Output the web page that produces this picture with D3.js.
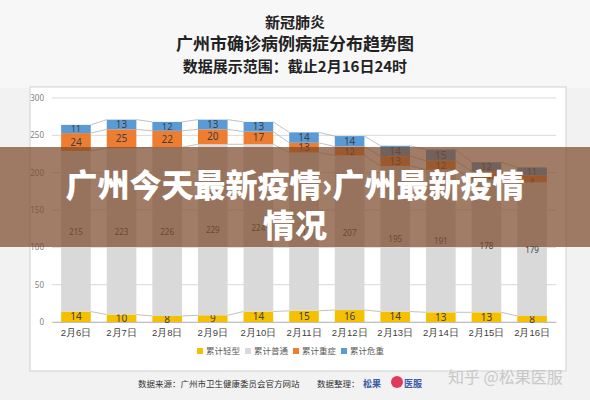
<!DOCTYPE html>
<html><head><meta charset="utf-8">
<script src="https://cdn.jsdelivr.net/npm/d3@7"></script>
<style>body{margin:0;background:#f2f2f2;font-family:"Noto Sans CJK SC",sans-serif}</style>
</head><body><svg id="c" width="590" height="400"></svg>
<script>
const dates = ["2月6日","2月7日","2月8日","2月9日","2月10日","2月11日","2月12日","2月13日","2月14日","2月15日","2月16日"];
const mild = [14,10,8,9,14,15,16,14,13,13,8];
const normal = [215,223,226,229,224,212,207,195,191,178,179];
const severe = [24,25,22,20,17,13,12,13,12,11,9];
const critical = [11,13,12,13,13,14,14,14,15,12,11];
const seriesNames = ["累计轻型","累计普通","累计重症","累计危重"];
const colors = ["#f5c000","#d9d9d9","#ed7d31","#5b9bd5"];
const yTicks = [0,50,100,150,200,250,300];

const svg = d3.select("#c");
svg.append("rect").attr("width",590).attr("height",88).attr("fill","#f7f7f7");
const tt = [["新冠肺炎",28,15],["广州市确诊病例病症分布趋势图",50,17],["数据展示范围：截止2月16日24时",72,15]];
tt.forEach(t=>svg.append("text").attr("x",295).attr("y",t[1]).attr("text-anchor","middle")
  .attr("font-size",t[2]).attr("font-weight","bold").attr("fill","#222").text(t[0]));
svg.append("rect").attr("x",30).attr("y",87).attr("width",536).attr("height",284)
  .attr("fill","#fff").attr("stroke","#d0d0d0");

const x = d3.scaleBand().domain(dates).range([52,556]).paddingInner(0.35).paddingOuter(0.2);
const y = d3.scaleLinear().domain([0,300]).range([322,98]);

const g = svg.append("g");
g.selectAll(".grid").data(yTicks).join("line").attr("x1",52).attr("x2",556)
  .attr("y1",d=>y(d)).attr("y2",d=>y(d)).attr("stroke","#d9d9d9");
const ya = g.append("g").attr("transform","translate(52,0)")
  .call(d3.axisLeft(y).tickValues(yTicks).tickSize(0).tickPadding(8));
ya.select(".domain").remove();
ya.selectAll("text").attr("font-size",8).attr("fill","#7f7f7f").attr("font-family","Noto Sans");
const xa = g.append("g").attr("transform","translate(0,322)").call(d3.axisBottom(x).tickSize(0).tickPadding(7));
xa.select(".domain").attr("stroke","#bfbfbf");
xa.selectAll("text").attr("font-size",9.5).attr("fill","#404040");

const table = dates.map((d,i)=>({date:d,a:mild[i],b:normal[i],c:severe[i],e:critical[i]}));
const stack = d3.stack().keys(["a","b","c","e"])(table);

stack.forEach(s=>{
  for(let i=0;i<s.length-1;i++){
    g.append("line").attr("x1",x(dates[i])+x.bandwidth()).attr("x2",x(dates[i+1]))
      .attr("y1",y(s[i][1])).attr("y2",y(s[i+1][1])).attr("stroke","#a6a6a6").attr("stroke-width",0.7);
  }
});
stack.forEach((s,k)=>{
  g.selectAll(null).data(s).join("rect").attr("x",d=>x(d.data.date)).attr("width",x.bandwidth())
    .attr("y",d=>y(d[1])).attr("height",d=>y(d[0])-y(d[1])).attr("fill",colors[k]);
  g.selectAll(null).data(s).join("text").attr("x",d=>x(d.data.date)+x.bandwidth()/2)
    .attr("y",d=>(y(d[0])+y(d[1]))/2+3.5).attr("text-anchor","middle")
    .attr("font-size",d=>k==1?8:k==0?10:Math.min(10,(y(d[0])-y(d[1]))*1.05)).attr("font-family","Noto Sans").attr("fill","#404040")
    .text(d=>d[1]-d[0]);
});

const lg = svg.append("g").attr("transform","translate(197,354)");
let lx=0;
seriesNames.forEach((n,i)=>{
  lg.append("rect").attr("x",lx).attr("y",-6).attr("width",6).attr("height",6).attr("fill",colors[i]);
  lg.append("text").attr("x",lx+9).attr("y",0).attr("font-size",8.5).attr("fill","#595959").text(n);
  lx+=48;
});

svg.append("text").attr("x",138).attr("y",387).attr("font-size",8.5).attr("fill","#333")
  .text("数据来源：广州市卫生健康委员会官方网站");
svg.append("text").attr("x",317).attr("y",387).attr("font-size",8.5).attr("fill","#333").text("数据整理：");
svg.append("text").attr("x",363).attr("y",387).attr("font-size",9).attr("font-weight","bold").attr("fill","#3a5aa8").text("松果");
svg.append("circle").attr("cx",397).attr("cy",382).attr("r",6).attr("fill","#e03a5a");
svg.append("text").attr("x",404).attr("y",387).attr("font-size",9).attr("font-weight","bold").attr("fill","#3a5aa8").text("医服");
svg.append("text").attr("x",448).attr("y",383).attr("font-size",16).attr("fill","#c8c8c8").text("知乎 @松果医服");

svg.append("rect").attr("y",147).attr("width",590).attr("height",100).attr("fill","rgba(125,75,45,0.72)");
svg.append("text").attr("x",295).attr("y",197).attr("text-anchor","middle").attr("font-size",32)
  .attr("font-weight","900").attr("fill","#fff").text("广州今天最新疫情›广州最新疫情");
svg.append("text").attr("x",295).attr("y",237).attr("text-anchor","middle").attr("font-size",32)
  .attr("font-weight","900").attr("fill","#fff").text("情况");
</script></body></html>
